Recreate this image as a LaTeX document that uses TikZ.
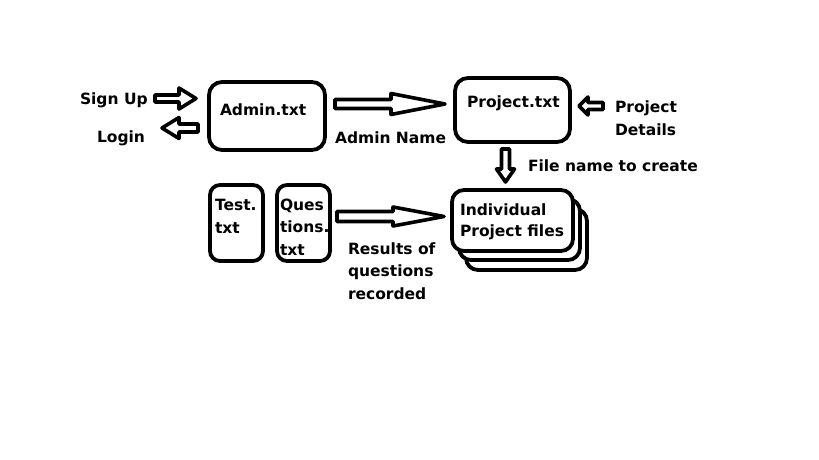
\documentclass[tikz,border=0pt]{standalone}
\usepackage{fontspec}
\setmainfont{DejaVu Sans}
\begin{document}
\begin{tikzpicture}[x=1pt,y=-1pt,
  every node/.style={inner sep=0pt,outer sep=0pt},
  box/.style={draw=black,line width=3.8pt,fill=white,rounded corners=#1},
  box/.default=13pt,
  blk/.style={draw=black,line width=3.6pt,fill=white,line join=round},
  lbl/.style={anchor=base west,align=left,font=\bfseries\fontsize{15.5}{22.5}\selectfont}]
\useasboundingbox[fill=white] (0,0) rectangle (819,460);
% block arrow: tail, headbase, tip, cy, shafthalf, headhalf
\def\rarr#1#2#3#4#5#6{\draw[blk] (#1,#4-#5) -- (#2,#4-#5) -- (#2,#4-#6) -- (#3,#4) -- (#2,#4+#6) -- (#2,#4+#5) -- (#1,#4+#5) -- cycle;}
% boxes
\node[box, minimum width=116pt, minimum height=68pt] (admin) at (267,116) {};
\node[box, minimum width=115pt, minimum height=64pt] (project) at (512.5,110) {};
\node[box=10pt, minimum width=53pt, minimum height=76pt] (test) at (236.5,223) {};
\node[box=10pt, minimum width=53pt, minimum height=76pt] (ques) at (303.5,223) {};
\node[box=12pt, minimum width=121pt, minimum height=61pt] (back) at (526.5,239.5) {};
\node[box=12pt, minimum width=121pt, minimum height=61pt] (mid) at (519.5,229.5) {};
\node[box=12pt, minimum width=121pt, minimum height=61pt] (indiv) at (512.5,220.5) {};
% block arrows
\rarr{155}{179}{196}{98.5}{3.5}{10.5}
\rarr{198}{179}{162}{128}{4}{10.5}
\rarr{335}{391}{445}{104}{4.5}{10.5}
\rarr{603}{588}{579}{106}{3.5}{9}
\rarr{337}{393}{444}{216.5}{5}{9.5}
\draw[blk] (505.5-4,149) -- (505.5-4,169) -- (505.5-9,169) -- (505.5,182) -- (505.5+9,169) -- (505.5+4,169) -- (505.5+4,149) -- cycle;
% labels (anchor = baseline of last line)
\node[lbl] (signup) at (80,104) {Sign Up};
\node[lbl] (login) at (97,142) {Login};
\node[lbl] (admintxt) at (220,115) {Admin.txt};
\node[lbl] (adminname) at (335,143) {Admin Name};
\node[lbl] (projtxt) at (467,107) {Project.txt};
\node[lbl] (projdet) at (615,135) {Project\\Details};
\node[lbl] (fname) at (528,171) {File name to create};
\node[lbl] (testtxt) at (215,233) {Test.\\txt};
\node[lbl] (questxt) at (280,255) {Ques\\tions.\\txt};
\node[lbl] (results) at (348,299) {Results of\\questions\\recorded};
\node[lbl] (indivtxt) at (460,236) {Individual\\[-1.5pt]Project files};
\end{tikzpicture}
\end{document}
